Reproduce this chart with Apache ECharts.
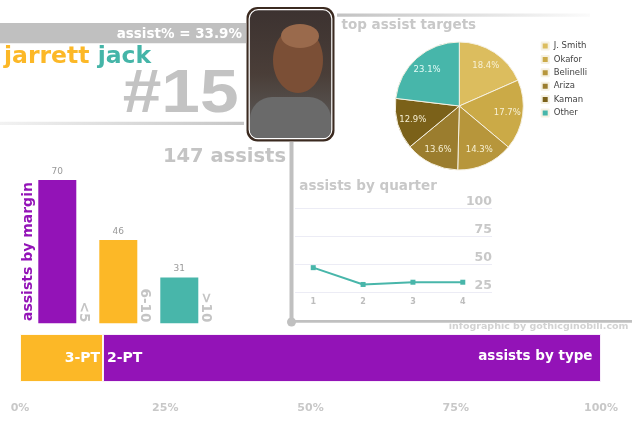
<!DOCTYPE html>
<html>
<head>
<meta charset="utf-8">
<script src="https://cdn.jsdelivr.net/npm/echarts@6/dist/echarts.min.js"></script>
<style>html,body{margin:0;padding:0;background:#fff}#c{width:632px;height:422px}</style>
</head>
<body>
<div id="c"></div>
<script>
const marginCats = ['<5', '6-10', '>10'];
const marginVals = [70, 46, 31];
const quarters = [1, 2, 3, 4];
const quarterVals = [47, 32, 34, 34];
const targetNames = ['J. Smith', 'Okafor', 'Belinelli', 'Ariza', 'Kaman', 'Other'];
const targetPcts = [18.4, 17.7, 14.3, 13.6, 12.9, 23.1];
const typeNames = ['3-PT', '2-PT'];
const typeCounts = [21, 126];

const PURPLE = '#9313b7', ORANGE = '#fcb827', TEAL = '#48b6aa';
const marginColors = [PURPLE, ORANGE, TEAL];
const pieColors = ['#dcbd5e', '#cbaa47', '#b7963b', '#9b7d2e', '#7b6119', '#47b6aa'];
const FONT = '"DejaVu Sans"';
const marginMin = 12.7;
const totalType = typeCounts.reduce((a, b) => a + b, 0);
const typePct = typeCounts.map(v => v / totalType * 100);

const chart = echarts.init(document.getElementById('c'), null, {renderer: 'canvas'});

const option = {
  animation: false,
  backgroundColor: '#fff',
  grid: [
    {left: 26.8, top: 180, width: 183, height: 143.3},
    {left: 295, top: 208.3, width: 197, height: 84},
    {left: 20, top: 324, width: 581, height: 68}
  ],
  xAxis: [
    {type: 'category', gridIndex: 0, data: marginCats, show: false},
    {type: 'value', gridIndex: 1, min: 0.634, max: 4.586,
      axisLine: {show: false}, axisTick: {show: false}, splitLine: {show: false},
      axisLabel: {customValues: quarters, color: '#bdbdbd', fontSize: 8, fontWeight: 'bold', fontFamily: FONT, margin: 6}},
    {type: 'value', gridIndex: 2, min: 0, max: 100, interval: 25,
      axisLine: {lineStyle: {color: '#c4c4c4', width: 1}},
      axisTick: {length: 4, lineStyle: {color: '#c4c4c4'}},
      splitLine: {show: false},
      axisLabel: {formatter: '{value}%', color: '#c8c8c8', fontSize: 11, fontWeight: 'bold', fontFamily: FONT, margin: 10.5}}
  ],
  yAxis: [
    {type: 'value', gridIndex: 0, min: marginMin, max: 70, show: false},
    {type: 'value', gridIndex: 1, min: 25, max: 100, interval: 25, position: 'right',
      axisLine: {show: false}, axisTick: {show: false},
      splitLine: {lineStyle: {color: '#ececf5', width: 1}},
      axisLabel: {inside: true, margin: 0, verticalAlign: 'bottom', color: '#c8c8c8', fontSize: 12.5, fontWeight: 'bold', fontFamily: FONT, showMinLabel: true, showMaxLabel: true}},
    {type: 'category', gridIndex: 2, data: ['type'], show: false}
  ],
  legend: {
    orient: 'vertical', left: 535.7, top: 36.5, padding: 5,
    itemWidth: 7, itemHeight: 7, itemGap: 4.4,
    icon: 'rect',
    data: targetNames,
    textStyle: {color: '#444', fontSize: 8.5, fontFamily: FONT, lineHeight: 7},
    selectedMode: false
  },
  series: [
    {
      type: 'bar', xAxisIndex: 0, yAxisIndex: 0, barWidth: 38,
      data: marginVals.map((v, i) => ({value: v, itemStyle: {color: marginColors[i]}})),
      label: {show: true, position: 'top', distance: 4, color: '#999', fontSize: 9, fontFamily: FONT},
      silent: true
    },
    {
      type: 'custom', xAxisIndex: 0, yAxisIndex: 0, silent: true,
      data: marginCats.map((c, i) => [i, marginMin]),
      renderItem: function (params, api) {
        const p = api.coord([api.value(0), api.value(1)]);
        return {
          type: 'text', x: p[0] + 26, y: p[1] - 1, rotation: -Math.PI / 2,
          style: {text: marginCats[params.dataIndex], align: 'right', verticalAlign: 'middle',
            fill: '#c4c4c4', font: 'bold 13.5px ' + FONT}
        };
      }
    },
    {
      type: 'line', xAxisIndex: 1, yAxisIndex: 1,
      data: quarters.map((q, i) => [q, quarterVals[i]]),
      lineStyle: {color: TEAL, width: 2},
      itemStyle: {color: TEAL},
      symbol: 'rect', symbolSize: 5, showSymbol: true, silent: true
    },
    {
      type: 'bar', name: typeNames[0], xAxisIndex: 2, yAxisIndex: 2, stack: 'type', barWidth: 48,
      data: [typePct[0]],
      itemStyle: {color: ORANGE, borderColor: 'rgba(255,255,255,0.85)', borderWidth: 1},
      label: {show: true, position: 'insideRight', distance: 3, formatter: typeNames[0],
        color: '#fff', fontSize: 14, fontWeight: 'bold', fontFamily: FONT},
      silent: true
    },
    {
      type: 'bar', name: typeNames[1], xAxisIndex: 2, yAxisIndex: 2, stack: 'type', barWidth: 48,
      data: [typePct[1]],
      itemStyle: {color: PURPLE, borderColor: 'rgba(255,255,255,0.85)', borderWidth: 1},
      label: {show: true, position: 'insideLeft', distance: 4, formatter: typeNames[1],
        color: '#fff', fontSize: 14, fontWeight: 'bold', fontFamily: FONT},
      silent: true
    },
    {
      type: 'pie', center: [459.3, 106], radius: 64, startAngle: 90, clockwise: true,
      data: targetNames.map((n, i) => ({name: n, value: targetPcts[i], itemStyle: {color: pieColors[i]}})),
      itemStyle: {borderColor: '#f6f1e2', borderWidth: 1},
      label: {show: false}, labelLine: {show: false}, silent: true
    },
    {
      type: 'pie', center: [459.3, 106], radius: [27, 64], startAngle: 90, clockwise: true,
      data: targetNames.map((n, i) => ({name: n, value: targetPcts[i],
        label: {color: i === 5 ? '#e4fbf6' : '#f7f0d4'}})),
      itemStyle: {color: 'rgba(0,0,0,0)', borderWidth: 0},
      label: {show: true, position: 'inside', fontSize: 8.5, fontFamily: FONT,
        formatter: p => p.value.toFixed(1) + '%'},
      labelLine: {show: false}, silent: true, z: 5
    }
  ],
  graphic: [
    {type: 'rect', shape: {x: 0, y: 23, width: 246, height: 20.3}, style: {fill: '#c0c0c0'}},
    {type: 'rect', shape: {x: 0, y: 121.7, width: 244, height: 3.2},
      style: {fill: new echarts.graphic.LinearGradient(0, 0, 1, 0, [{offset: 0, color: '#f2f2f2'}, {offset: 1, color: '#c6c6c6'}])}},
    {type: 'rect', shape: {x: 337, y: 13.5, width: 253, height: 3.2},
      style: {fill: new echarts.graphic.LinearGradient(0, 0, 1, 0, [{offset: 0, color: '#c2c2c2'}, {offset: 1, color: '#fbfbfb'}])}},
    {type: 'rect', shape: {x: 289.5, y: 142, width: 4, height: 180}, style: {fill: '#c0c0c0'}},
    {type: 'rect', shape: {x: 291, y: 320, width: 341, height: 2.8}, style: {fill: '#c0c0c0'}},
    {type: 'circle', shape: {cx: 291.5, cy: 322, r: 4.5}, style: {fill: '#c0c0c0'}},
    // photo placeholder
    {type: 'rect', shape: {x: 246.5, y: 7, width: 88, height: 134.5, r: 11}, style: {fill: '#3b2a20'}},
    {type: 'rect', shape: {x: 249.2, y: 9.7, width: 82.6, height: 129, r: 9},
      style: {fill: new echarts.graphic.LinearGradient(0, 0, 0, 1, [{offset: 0, color: '#3c3230'}, {offset: 0.5, color: '#4a3e38'}, {offset: 1, color: '#5f5f5f'}]), stroke: '#ffffff', lineWidth: 1.2}},
    {type: 'rect', shape: {x: 250, y: 97, width: 81, height: 41, r: [22, 22, 8, 8]}, style: {fill: '#6a6a6a'}},
    {type: 'ellipse', shape: {cx: 298, cy: 60, rx: 25, ry: 33}, style: {fill: '#7b4f36'}},
    {type: 'ellipse', shape: {cx: 300, cy: 36, rx: 19, ry: 12}, style: {fill: '#9a6a4c'}},
    // texts
    {type: 'text', x: 242, y: 34, z: 10, style: {text: 'assist% = 33.9%', fill: '#ffffff', font: 'bold 13.5px ' + FONT, align: 'right', verticalAlign: 'middle'}},
    {type: 'text', x: 4, y: 57, z: 10, style: {text: '{a|jarrett} {b|jack}', font: 'bold 23.5px ' + FONT, align: 'left', verticalAlign: 'middle',
      rich: {a: {fill: ORANGE, font: 'bold 23.5px ' + FONT}, b: {fill: '#45b5a8', font: 'bold 23.5px ' + FONT}}}},
    {type: 'text', x: 238.5, y: 95, scaleX: 1.12, z: 10, style: {text: '#15', fill: '#c3c3c3', font: 'bold 62px "Liberation Sans"', align: 'right', verticalAlign: 'middle'}},
    {type: 'text', x: 286, y: 157, z: 10, style: {text: '147 assists', fill: '#c4c4c4', font: 'bold 19.5px ' + FONT, align: 'right', verticalAlign: 'middle'}},
    {type: 'text', x: 341.5, y: 25.5, z: 10, style: {text: 'top assist targets', fill: '#c8c8c8', font: 'bold 13.5px ' + FONT, align: 'left', verticalAlign: 'middle'}},
    {type: 'text', x: 299.3, y: 186, z: 10, style: {text: 'assists by quarter', fill: '#c8c8c8', font: 'bold 13.5px ' + FONT, align: 'left', verticalAlign: 'middle'}},
    {type: 'text', x: 28.5, y: 321, rotation: Math.PI / 2, z: 10, style: {text: 'assists by margin', fill: PURPLE, font: 'bold 14px ' + FONT, align: 'left', verticalAlign: 'middle'}},
    {type: 'text', x: 628.5, y: 326.7, z: 10, style: {text: 'infographic by gothicginobili.com', fill: '#d2d2d2', font: 'bold 9.5px ' + FONT, align: 'right', verticalAlign: 'middle'}},
    {type: 'text', x: 592.5, y: 356, z: 100, style: {text: 'assists by type', fill: '#ffffff', font: 'bold 13.5px ' + FONT, align: 'right', verticalAlign: 'middle'}}
  ]
};
chart.setOption(option);
</script>
</body>
</html>
